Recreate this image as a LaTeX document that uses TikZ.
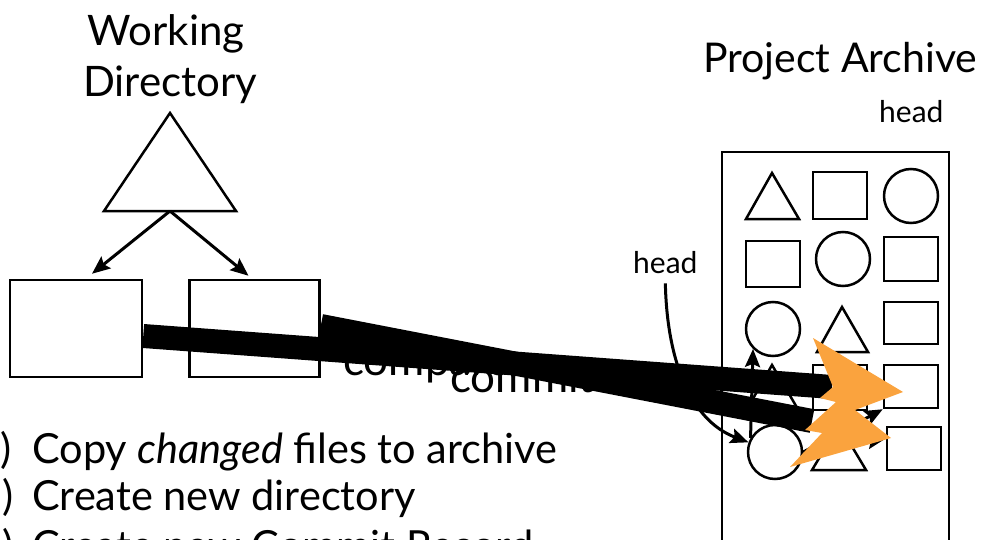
\documentclass[tikz,border=0pt]{standalone}
\usepackage{fontspec}
\setmainfont{Lato}
\usetikzlibrary{arrows.meta}
\definecolor{burst}{RGB}{250,163,62}
\begin{document}
\begin{tikzpicture}[x=1pt,y=-1pt,
  shp/.style={draw=black,line width=2.5pt},
  sq/.style={shp,rectangle,inner sep=0pt,minimum width=54pt},
  circ/.style={shp,circle,inner sep=0pt,minimum size=54pt},
  arr/.style={line width=3pt,-{Stealth[length=18pt,width=15pt,inset=3pt]}},
  bar/.style={line width=24pt,black},
  lbl/.style={inner sep=0pt,anchor=base west},
  big/.style={font=\fontsize{42}{46}\selectfont},
  mid/.style={font=\fontsize{41.5}{44}\selectfont},
  small/.style={font=\fontsize{30}{34}\selectfont},
]
\useasboundingbox (0,0) rectangle (984,540);
\clip (0,0) rectangle (984,540);

% working directory
\node[big,inner sep=0pt,anchor=base] (wd1) at (166,46) {Working};
\node[big,inner sep=0pt,anchor=base] (wd2) at (170,97) {Directory};
\draw[shp] (170,113) -- (236,211) -- (104,211) -- cycle;
\coordinate (wdb) at (170,211);
\node[shp,rectangle,minimum width=132pt,minimum height=97pt] (box1) at (76,328.5) {};
\node[shp,rectangle,minimum width=130pt,minimum height=97pt] (box2) at (254.5,328.5) {};
\draw[arr] (wdb) -- ([xshift=16pt,yshift=5pt]box1.north);
\draw[arr] (wdb) -- ([xshift=-6pt,yshift=3pt]box2.north);

% compare / commit labels
\node[lbl,font=\fontsize{44}{48}\selectfont] (cmp) at (343,375) {compare};
\node[lbl,font=\fontsize{44}{48}\selectfont] (cmt) at (450,392) {commit};

% steps
\node[lbl,mid] (s1) at (32,463) {\llap{1)\hspace{21pt}}Copy \textit{changed} files to archive};
\node[lbl,mid] (s2) at (32,510) {\llap{2)\hspace{19pt}}Create new directory};
\node[lbl,mid] (s3) at (32,560) {\llap{3)\hspace{19pt}}Create new Commit Record};

% archive
\node[lbl,font=\fontsize{41}{44}\selectfont] (pa) at (703,73) {Project Archive};
\node[lbl,small] (headT) at (879,123) {head};
\node[lbl,small] (headL) at (633,273) {head};
\node[shp,rectangle,minimum width=227pt,minimum height=408pt] (arch) at (835.5,356) {};

\draw[shp] (772,173) -- (799,219) -- (746,219) -- cycle;
\node[sq,minimum height=47pt] (s12) at (840,195.5) {};
\node[circ] (c13) at (911,196) {};
\node[sq,minimum height=46pt] (s21) at (773,264) {};
\node[circ] (c22) at (843,259) {};
\node[sq,minimum height=44pt] (s23) at (911,259) {};
\node[circ] (c31) at (773,329) {};
\draw[shp] (842,307) -- (868,352) -- (817,352) -- cycle;
\node[sq,minimum height=42pt] (s33) at (911,323) {};
\draw[shp] (772,365) -- (799,411) -- (746,411) -- cycle;
\node[sq,minimum height=45pt] (s42) at (840,387.5) {};
\node[sq,minimum height=43pt] (s43) at (911,386.5) {};
\node[circ] (c51) at (775,452) {};
\draw[shp] (839,425) -- (866,470) -- (812,470) -- cycle;
\node[sq,minimum height=43pt] (s53) at (914,448.5) {};

\draw[arr] (c51.150) -- (c31.225);
\draw[arr] (c51.east) -- (s43.south west);
\draw[arr] (c51.east) -- ([yshift=10pt]s53.west);
\draw[arr] ([yshift=-10pt]headL.south) .. controls (667,360) and (690,420) .. (c51.160);

% thick bars
\coordinate (b1end) at (832,387);
\coordinate (b2end) at (812,421);
\draw[bar] ([yshift=-7.5pt]box1.east) -- (b1end);
\draw[bar] ([yshift=2.5pt]box2.east) -- (b2end);

% burst
\fill[burst] (813,338) -- (903,392) -- (855,410) -- (891,438) -- (790,467)
  -- (822,433) -- (805,430) -- (836,402) -- (820,398) -- (833,387) -- cycle;
\end{tikzpicture}
\end{document}
